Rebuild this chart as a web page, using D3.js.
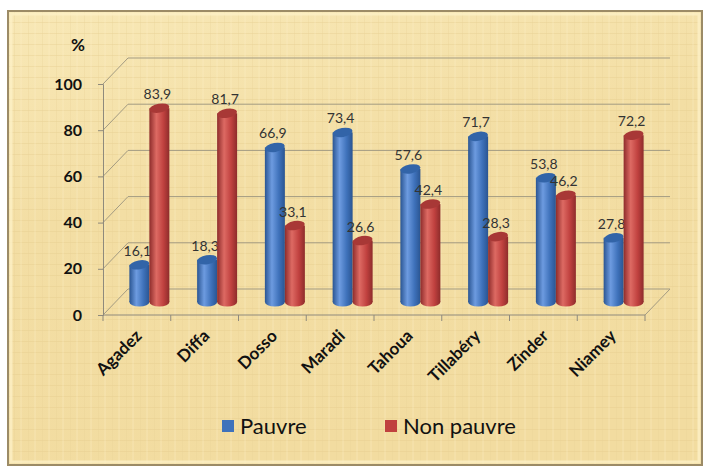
<!DOCTYPE html>
<html>
<head>
<meta charset="utf-8">
<script src="https://cdn.jsdelivr.net/npm/d3@7"></script>
<style>
  body { margin: 0; background: #fff; }
  svg { display: block; font-family: Lato, "Open Sans", sans-serif; }
</style>
</head>
<body>
<div id="chart"></div>
<script>
// data
const regions = ['Agadez', 'Diffa', 'Dosso', 'Maradi', 'Tahoua', 'Tillabéry', 'Zinder', 'Niamey'];
const pauvre = [16.1, 18.3, 66.9, 73.4, 57.6, 71.7, 53.8, 27.8];
const nonPauvre = [83.9, 81.7, 33.1, 26.6, 42.4, 28.3, 46.2, 72.2];
const seriesNames = ['Pauvre', 'Non pauvre'];
const yTicks = [0, 20, 40, 60, 80, 100];

const width = 705, height = 468;
const depth = { dx: 25, dy: -26 };   // 3D depth offset of the back wall

const svg = d3.select('#chart').append('svg')
    .attr('width', width)
    .attr('height', height);

const defs = svg.append('defs');

// parchment background
let bg = defs.append('linearGradient').attr('id', 'bg')
    .attr('x1', 0).attr('y1', 0).attr('x2', 0.3).attr('y2', 1);
bg.append('stop').attr('offset', '0%').attr('stop-color', '#f8e8b6');
bg.append('stop').attr('offset', '45%').attr('stop-color', '#f3dea4');
bg.append('stop').attr('offset', '100%').attr('stop-color', '#f2dca0');

let pat = defs.append('pattern').attr('id', 'paper')
    .attr('width', 14).attr('height', 11).attr('patternUnits', 'userSpaceOnUse');
pat.append('path').attr('d', 'M0 0.5H14').attr('stroke', '#e3c98a').attr('stroke-width', 1).attr('opacity', 0.35);
pat.append('path').attr('d', 'M0.5 0V11').attr('stroke', '#e6cf93').attr('stroke-width', 1).attr('opacity', 0.3);
pat.append('path').attr('d', 'M7 0V11').attr('stroke', '#fbefc9').attr('stroke-width', 1).attr('opacity', 0.4);

// cylinder gradients
const colors = {
    Pauvre: { dark: '#2a5592', mid: '#3f72bb', light: '#6d9be0', top: '#3264a8' },
    'Non pauvre': { dark: '#8e2c2b', mid: '#c0413f', light: '#dd6a63', top: '#a83836' }
};
seriesNames.forEach((s, i) => {
    let g = defs.append('linearGradient').attr('id', 'cyl' + i)
        .attr('x1', 0).attr('y1', 0).attr('x2', 1).attr('y2', 0);
    g.append('stop').attr('offset', '0%').attr('stop-color', colors[s].dark);
    g.append('stop').attr('offset', '35%').attr('stop-color', colors[s].light);
    g.append('stop').attr('offset', '70%').attr('stop-color', colors[s].mid);
    g.append('stop').attr('offset', '100%').attr('stop-color', colors[s].dark);
});

// frame
svg.append('rect').attr('x', 7).attr('y', 10).attr('width', 696).attr('height', 456)
    .attr('fill', 'url(#bg)');
svg.append('rect').attr('x', 7).attr('y', 10).attr('width', 696).attr('height', 456)
    .attr('fill', 'url(#paper)');
svg.append('rect').attr('x', 11).attr('y', 14).attr('width', 688).attr('height', 448)
    .attr('fill', 'none').attr('stroke', '#fcf0c6').attr('stroke-width', 3).attr('opacity', 0.8);
svg.append('rect').attr('x', 8).attr('y', 11).attr('width', 694).attr('height', 454)
    .attr('fill', 'none').attr('stroke', '#9c8b66').attr('stroke-width', 2);

// scales
const x = d3.scaleBand().domain(regions).range([103, 645]);
const y = d3.scaleLinear().domain([0, 100]).range([315, 84]);
const xs = d3.scaleBand().domain(seriesNames).range([0, 40]);

const grid = svg.append('g').attr('stroke', '#a39b82').attr('stroke-width', 1).attr('fill', 'none');
const x0 = x.range()[0], x1 = x.range()[1];

// back wall gridlines and left wall diagonals
yTicks.forEach(t => {
    let yf = y(t), yb = y(t) + depth.dy;
    grid.append('line')
        .attr('x1', x0 + depth.dx).attr('x2', x1 + depth.dx)
        .attr('y1', yb).attr('y2', yb);
    grid.append('line')
        .attr('x1', x0).attr('y1', yf)
        .attr('x2', x0 + depth.dx).attr('y2', yb);
});
// floor
grid.append('line').attr('x1', x0).attr('x2', x1).attr('y1', y(0)).attr('y2', y(0)).attr('stroke', '#8f8a7c');
grid.append('line').attr('x1', x1).attr('y1', y(0)).attr('x2', x1 + depth.dx).attr('y2', y(0) + depth.dy);

// y axis
const yAxis = d3.axisLeft(y).tickValues(yTicks).tickSize(5).tickPadding(16);
svg.append('g')
    .attr('transform', 'translate(' + x0 + ',0)')
    .call(yAxis)
    .call(g => g.select('.domain').attr('stroke', '#8f8a7c'))
    .call(g => g.selectAll('.tick line').attr('stroke', '#8f8a7c'))
    .call(g => g.selectAll('.tick text')
        .attr('font-size', 16).attr('font-weight', 'bold').attr('fill', '#111')
        .attr('font-family', 'Lato, sans-serif'));

svg.append('text').attr('x', 78).attr('y', 51)
    .attr('text-anchor', 'middle').attr('font-size', 17).attr('font-weight', 'bold')
    .attr('fill', '#111').text('%');

// x axis ticks
const xTicks = regions.map(r => x(r)).concat([x1]);
svg.append('g').selectAll('line')
    .data(xTicks)
    .enter().append('line')
    .attr('x1', d => d).attr('x2', d => d)
    .attr('y1', y(0)).attr('y2', y(0) + 6)
    .attr('stroke', '#8f8a7c');

svg.append('g').selectAll('text')
    .data(regions)
    .enter().append('text')
    .attr('transform', d => 'translate(' + (x(d) + x.bandwidth() / 2 + 6) + ',' + (y(0) + 22) + ') rotate(-45)')
    .attr('text-anchor', 'end')
    .attr('font-size', 17).attr('font-weight', 'bold').attr('fill', '#111')
    .text(d => d);

// cylinders, drawn at mid depth
const mid = { dx: depth.dx / 2, dy: depth.dy / 2 };
const bars = [];
regions.forEach((r, i) => {
    bars.push({ region: r, series: 'Pauvre', value: pauvre[i], s: 0 });
    bars.push({ region: r, series: 'Non pauvre', value: nonPauvre[i], s: 1 });
});

const bw = xs.bandwidth();
const ry = 4.5;
const cyl = svg.append('g').selectAll('.bar')
    .data(bars)
    .enter().append('g')
    .attr('class', 'bar')
    .attr('transform', d => {
        let cx = x(d.region) + x.bandwidth() / 2 - 20 + xs(d.series) + mid.dx;
        return 'translate(' + cx + ',' + mid.dy + ')';
    });

cyl.append('ellipse')
    .attr('cx', bw / 2).attr('cy', y(0))
    .attr('rx', bw / 2).attr('ry', ry)
    .attr('fill', d => 'url(#cyl' + d.s + ')');
cyl.append('rect')
    .attr('x', 0).attr('width', bw)
    .attr('y', d => y(d.value))
    .attr('height', d => y(0) - y(d.value))
    .attr('fill', d => 'url(#cyl' + d.s + ')');
cyl.append('ellipse')
    .attr('cx', bw / 2).attr('cy', d => y(d.value))
    .attr('rx', bw / 2).attr('ry', ry)
    .attr('transform', d => 'rotate(-10,' + (bw / 2) + ',' + y(d.value) + ')')
    .attr('fill', d => colors[d.series].top);

cyl.append('text')
    .attr('x', bw / 2 - 2)
    .attr('y', d => y(d.value) - 9)
    .attr('text-anchor', 'middle')
    .attr('font-size', 14).attr('fill', '#333')
    .text(d => d3.format('.1f')(d.value).replace('.', ','));

// legend
const legend = svg.append('g').selectAll('g')
    .data(seriesNames)
    .enter().append('g')
    .attr('transform', (d, i) => 'translate(' + (222 + i * 163) + ',420)');
legend.append('rect')
    .attr('width', 12).attr('height', 12)
    .attr('fill', d => colors[d].mid);
legend.append('text')
    .attr('x', 18).attr('y', 14)
    .attr('font-size', 22).attr('fill', '#111')
    .text(d => d);
</script>
</body>
</html>
